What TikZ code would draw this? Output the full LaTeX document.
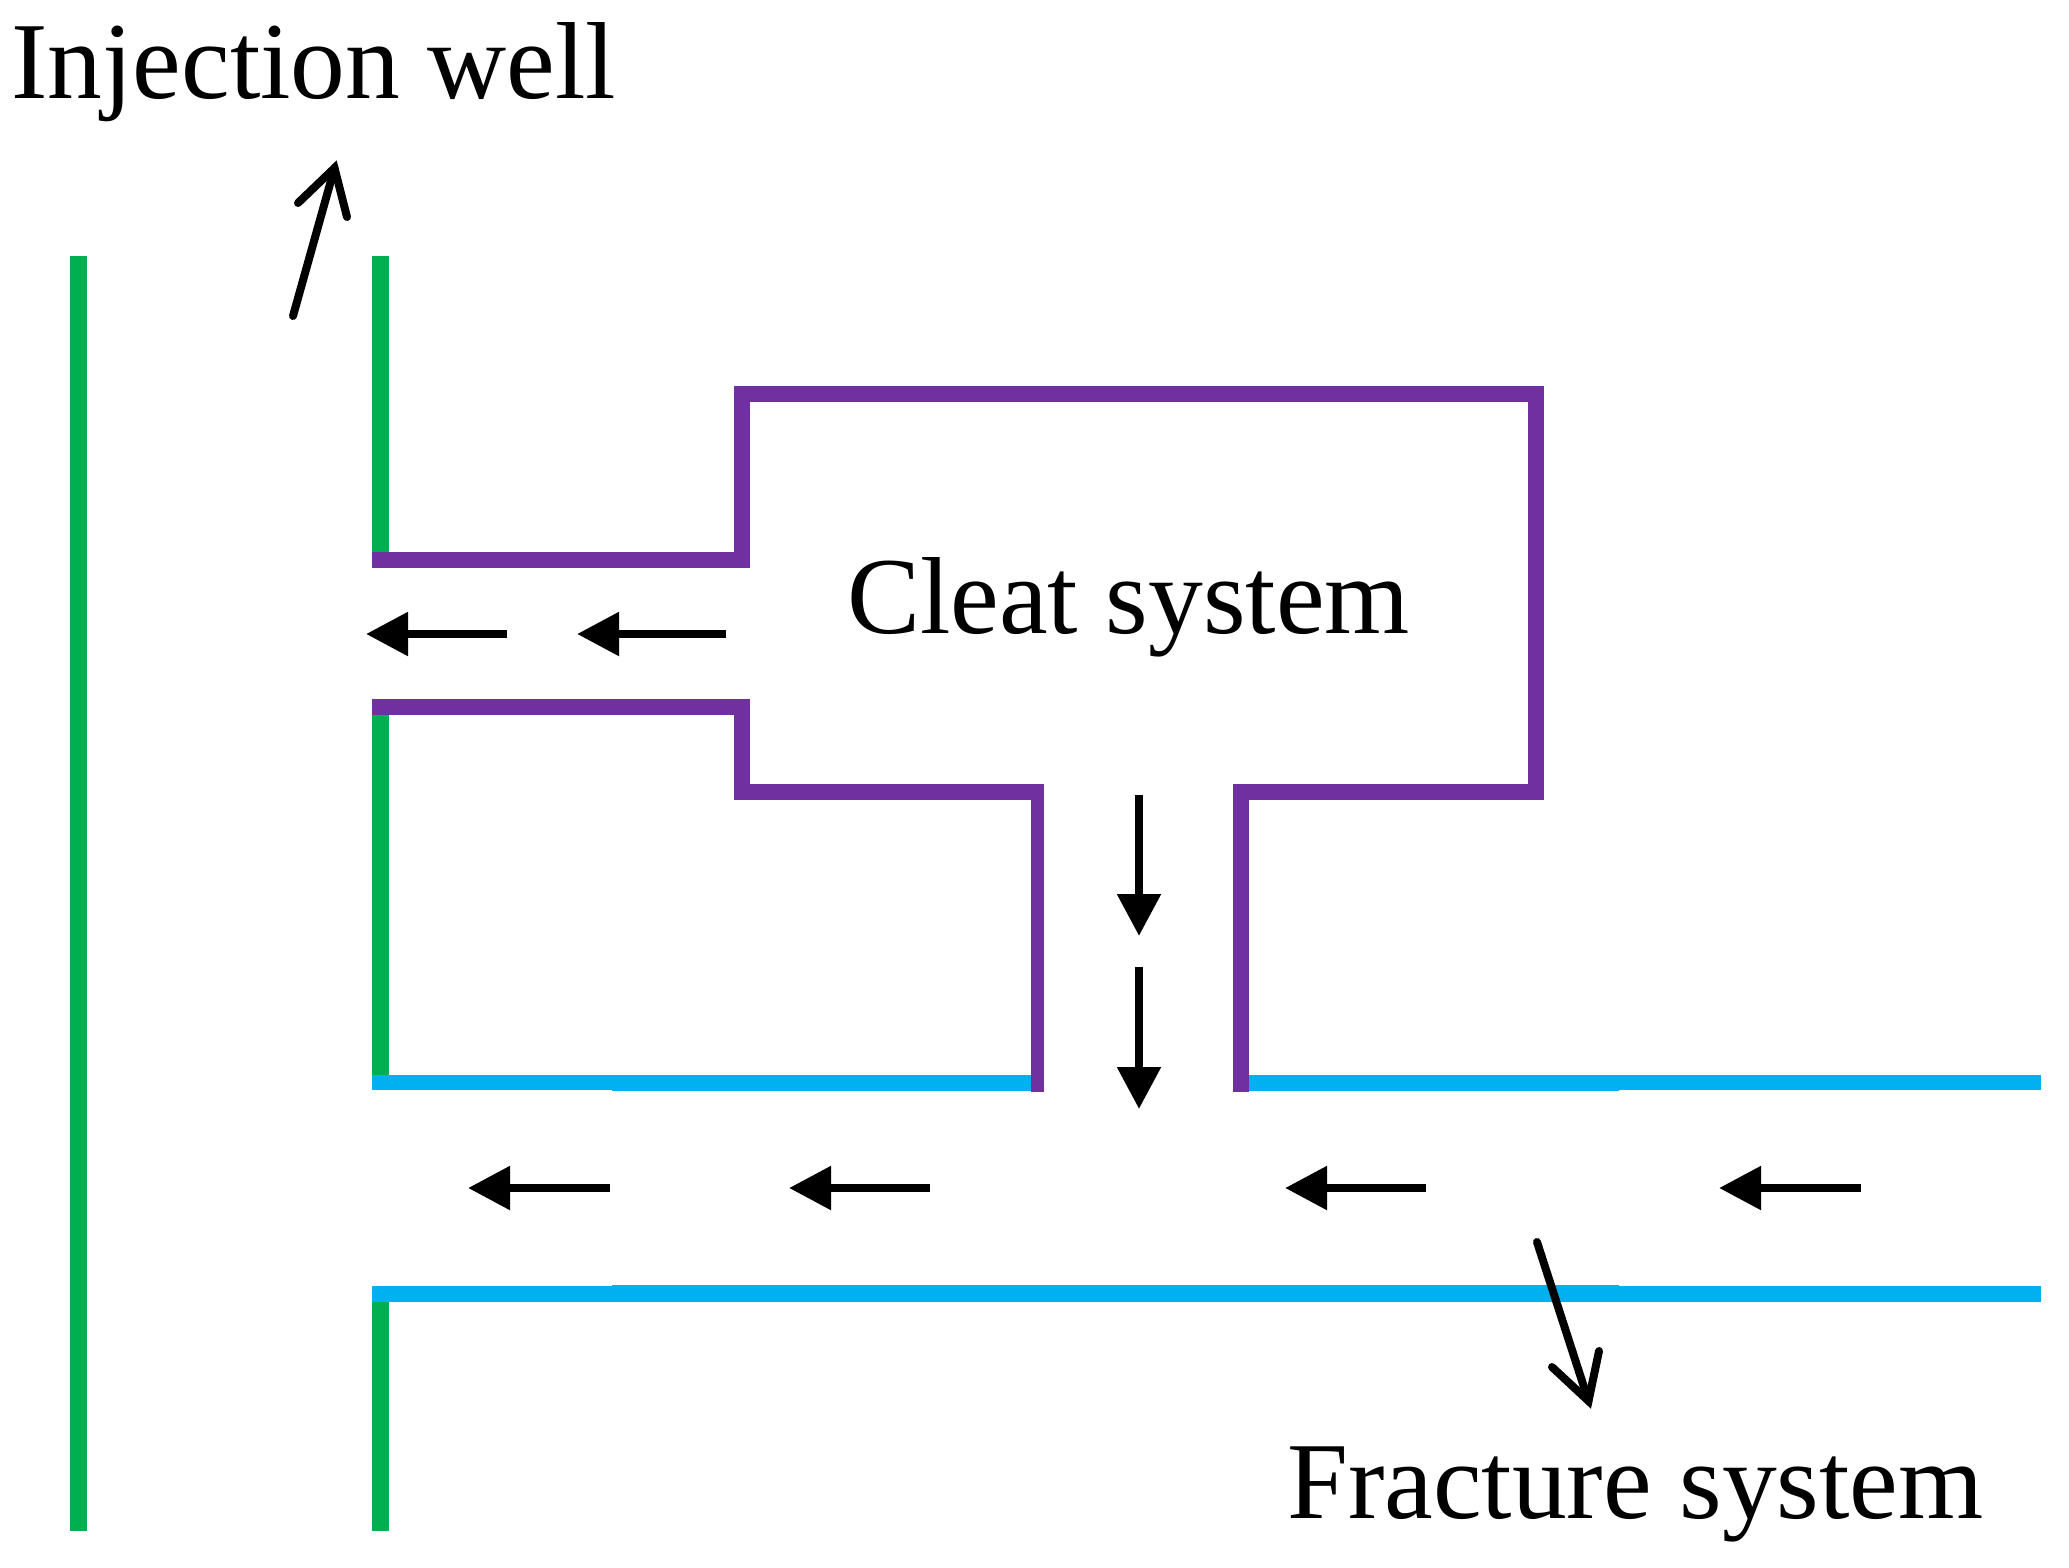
\documentclass[tikz,border=0pt]{standalone}
\usepackage{fontspec}
\setmainfont{Liberation Serif}
\usetikzlibrary{arrows.meta}
\definecolor{wellgreen}{HTML}{00B050}
\definecolor{cleatpurple}{HTML}{7030A0}
\definecolor{fracblue}{HTML}{00B0F0}
\begin{document}
\begin{tikzpicture}[x=1pt,y=-1pt,
    well/.style={draw=wellgreen,line width=16.5pt},
    cleat/.style={draw=cleatpurple,line width=16pt,miter limit=10},
    frac/.style={draw=fracblue,line width=15pt},
    fracw/.style={draw=fracblue,line width=16pt},
    flow/.style={draw=black,line width=8.5pt,-{Triangle[length=42pt,width=42pt]}},
    open/.style={draw=black,line width=8pt,line cap=round,line join=miter},
    lab/.style={anchor=base west,inner sep=0pt,font=\fontsize{109.5}{120}\selectfont}]
  \useasboundingbox (0,0) rectangle (2069,1567);
  % well walls
  \draw[well] (78.5,256) -- (78.5,1531);
  \draw[well] (380.5,256) -- (380.5,553);
  \draw[well] (380.5,707) -- (380.5,1083);
  \draw[well] (380.5,1293) -- (380.5,1531);
  % fracture walls
  \draw[frac] (372,1082.5) -- (612,1082.5);
  \draw[fracw] (612,1083) -- (1037,1083);
  \draw[fracw] (1241,1083) -- (1619,1083);
  \draw[frac] (1619,1082.5) -- (2041,1082.5);
  \draw[fracw] (372,1294) -- (612,1294);
  \draw[fracw,line width=17pt] (612,1293.5) -- (1619,1293.5);
  \draw[fracw] (1619,1294) -- (2041,1294);
  % cleat walls
  \draw[cleat] (372,560) -- (742,560) -- (742,394) -- (1536,394) -- (1536,791.5) -- (1241,791.5) -- (1241,1091.5);
  \draw[cleat] (372,707) -- (742,707) -- (742,791.5) -- (1044,791.5);
  \draw[cleat,line width=13pt] (1037.5,790) -- (1037.5,1091.5);
  % flow arrows
  \draw[flow] (507,634) -- (366,634);
  \draw[flow] (726,634) -- (577,634);
  \draw[flow] (1139,795) -- (1139,936);
  \draw[flow] (1139,967) -- (1139,1109);
  \draw[flow] (610,1188) -- (468,1188);
  \draw[flow] (930,1188) -- (789,1188);
  \draw[flow] (1426,1188) -- (1285,1188);
  \draw[flow] (1861,1188) -- (1719,1188);
  % outflow arrows
  \coordinate (inj) at (334.5,168);
  \coordinate (out) at (1588.5,1401);
  \draw[open] (293,316) -- (inj);
  \draw[open] (298,203) -- (inj) -- (347,217);
  \draw[open] (1537,1242) -- (out);
  \draw[open] (1552,1367) -- (out) -- (1599,1351);
  % labels
  \node[lab] (well) at (11,98) {Injection well};
  \node[lab] (cleatlab) at (847,633) {Cleat system};
  \node[lab] (fraclab) at (1287,1518) {Fracture system};
\end{tikzpicture}
\end{document}
